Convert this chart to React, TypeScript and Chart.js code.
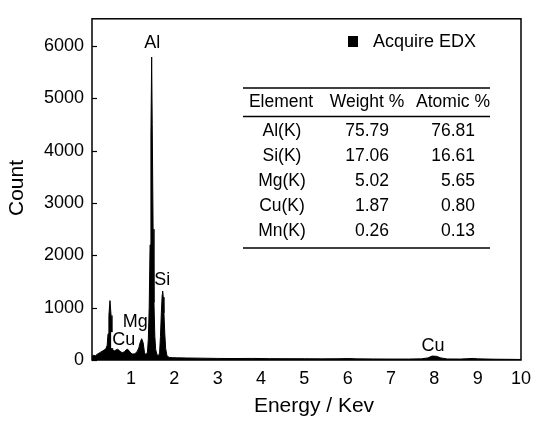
import React, { useEffect, useRef } from 'react';
import { Chart, registerables } from 'chart.js';

Chart.register(...registerables);

const FONT = '"Liberation Sans", Arial, Helvetica, sans-serif';

// Spectrum (energy in keV, counts)
const energy = [
  0.10, 0.14, 0.18, 0.22, 0.26, 0.30, 0.34, 0.38, 0.42, 0.45, 0.47, 0.49, 0.515, 0.54, 0.56, 0.58,
  0.61, 0.65, 0.69, 0.73, 0.77, 0.81, 0.85, 0.89, 0.92, 0.96, 1.00, 1.04, 1.09, 1.14, 1.18, 1.21,
  1.246, 1.28, 1.31, 1.34, 1.38, 1.40, 1.42, 1.44, 1.46, 1.477, 1.49, 1.51, 1.53, 1.55, 1.57, 1.60,
  1.64, 1.66, 1.68, 1.70, 1.72, 1.73, 1.745, 1.76, 1.78, 1.80, 1.83, 1.88, 1.95, 2.05, 2.3, 2.6,
  3.0, 3.4, 3.8, 4.2, 4.6, 5.0, 5.4, 5.8, 6.0, 6.2, 6.6, 7.0, 7.4, 7.7, 7.85, 7.95, 8.05, 8.15,
  8.3, 8.6, 8.9, 9.0, 9.4, 9.8, 10.0,
];
const counts = [
  70, 90, 80, 110, 130, 150, 170, 190, 215, 280, 500, 850, 1135, 850, 420, 190,
  170, 190, 207, 180, 150, 143, 160, 195, 207, 170, 130, 113, 120, 160, 230, 330,
  407, 330, 150, 90, 150, 400, 1000, 2200, 4300, 5790, 4500, 2500, 1100, 450, 200, 100,
  80, 150, 450, 900, 1250, 1318, 1200, 900, 500, 220, 80, 50, 45, 42, 38, 35,
  30, 28, 30, 26, 25, 24, 22, 24, 28, 22, 20, 18, 18, 22, 40, 75, 70, 40,
  20, 18, 30, 22, 15, 12, 10,
];

const seriesLabel = 'Acquire EDX';
const xTickValues = [1, 2, 3, 4, 5, 6, 7, 8, 9, 10];
const yTickValues = [0, 1000, 2000, 3000, 4000, 5000, 6000];
const xTitle = 'Energy / Kev';
const yTitle = 'Count';

// Peak annotations
const peakLabels = ['Al', 'Si', 'Mg', 'Cu', 'Cu'];
const peakLabelEnergy = [1.49, 1.72, 1.1, 0.83, 7.97];
const peakLabelCount = [6060, 1530, 720, 380, 265];
const peakLabelBoxed = [false, false, false, true, false];

// Composition table
const tableHeaders = ['Element', 'Weight %', 'Atomic %'];
const elements = ['Al(K)', 'Si(K)', 'Mg(K)', 'Cu(K)', 'Mn(K)'];
const weightPct = [75.79, 17.06, 5.02, 1.87, 0.26];
const atomicPct = [76.81, 16.61, 5.65, 0.8, 0.13];

const overlayPlugin = {
  id: 'overlay',
  afterDatasetsDraw(chart: any) {
    const { ctx, chartArea: a, scales } = chart;
    const x = scales.x;
    const y = scales.y;
    ctx.save();

    // frame
    ctx.strokeStyle = '#000';
    ctx.lineWidth = 1.5;
    ctx.strokeRect(a.left, a.top, a.right - a.left, a.bottom - a.top);

    // inward y ticks
    ctx.lineWidth = 1.2;
    yTickValues.forEach((v) => {
      const py = Math.round(y.getPixelForValue(v)) + 0.5;
      ctx.beginPath();
      ctx.moveTo(a.left, py);
      ctx.lineTo(a.left + 5, py);
      ctx.stroke();
    });

    // peak labels
    ctx.font = `18px ${FONT}`;
    ctx.textAlign = 'center';
    ctx.textBaseline = 'middle';
    peakLabels.forEach((t, i) => {
      const px = x.getPixelForValue(peakLabelEnergy[i]);
      const py = y.getPixelForValue(peakLabelCount[i]);
      if (peakLabelBoxed[i]) {
        const w = ctx.measureText(t).width;
        ctx.fillStyle = '#fff';
        ctx.fillRect(px - w / 2 - 1, py - 8, w + 2, 16);
      }
      ctx.fillStyle = '#000';
      ctx.fillText(t, px, py);
    });

    // legend
    const label = chart.data.datasets[0].label;
    ctx.fillStyle = '#000';
    ctx.fillRect(348, 36, 10, 11);
    ctx.font = `18px ${FONT}`;
    ctx.textAlign = 'left';
    ctx.fillText(label, 373, 42);

    // table
    ctx.lineWidth = 1.6;
    const hline = (yy: number) => {
      ctx.beginPath();
      ctx.moveTo(243, yy);
      ctx.lineTo(490, yy);
      ctx.stroke();
    };
    hline(88);
    hline(116.5);
    hline(248);
    ctx.font = `17.5px ${FONT}`;
    ctx.textAlign = 'center';
    const headerX = [281, 367, 453];
    tableHeaders.forEach((h, i) => ctx.fillText(h, headerX[i], 102.5));
    const rowY0 = 131;
    const rowStep = 25;
    elements.forEach((el, i) => {
      const ry = rowY0 + i * rowStep;
      ctx.textAlign = 'center';
      ctx.fillText(el, 282, ry);
      ctx.textAlign = 'right';
      ctx.fillText(weightPct[i].toFixed(2), 389, ry);
      ctx.fillText(atomicPct[i].toFixed(2), 475, ry);
    });

    // axis titles
    ctx.font = `21px ${FONT}`;
    ctx.textAlign = 'center';
    ctx.fillText(xTitle, 314, 406);
    ctx.save();
    ctx.translate(17, 188);
    ctx.rotate(-Math.PI / 2);
    ctx.fillText(yTitle, 0, 0);
    ctx.restore();

    ctx.restore();
  },
};

export default function App() {
  const ref = useRef<HTMLCanvasElement | null>(null);
  useEffect(() => {
    document.body.style.margin = '0';
    const canvas = ref.current;
    if (!canvas) return;
    const chart = new Chart(canvas, {
      type: 'line',
      data: {
        datasets: [
          {
            label: seriesLabel,
            data: energy.map((e, i) => ({ x: e, y: counts[i] })),
            borderColor: '#000',
            backgroundColor: '#000',
            borderWidth: 1,
            pointRadius: 0,
            fill: 'origin',
            tension: 0,
          },
        ],
      },
      options: {
        animation: false,
        responsive: false,
        devicePixelRatio: 1,
        layout: { padding: { top: 13, right: 24, left: 0, bottom: 0 } },
        plugins: {
          legend: { display: false },
          tooltip: { enabled: false },
        },
        scales: {
          x: {
            type: 'linear',
            min: 0.1,
            max: 10,
            afterBuildTicks: (s: any) => {
              s.ticks = xTickValues.map((v) => ({ value: v }));
            },
            afterFit: (s: any) => {
              s.height = 66;
            },
            grid: { display: false, drawTicks: false },
            border: { display: false },
            ticks: {
              color: '#000',
              font: { size: 18, family: FONT },
              padding: 8,
              maxRotation: 0,
              autoSkip: false,
              callback: (v: any) => String(v),
            },
          },
          y: {
            type: 'linear',
            min: 0,
            max: 6520,
            afterBuildTicks: (s: any) => {
              s.ticks = yTickValues.map((v) => ({ value: v }));
            },
            afterFit: (s: any) => {
              s.width = 92;
            },
            grid: { display: false, drawTicks: false },
            border: { display: false },
            ticks: {
              color: '#000',
              font: { size: 18, family: FONT },
              padding: 8,
              autoSkip: false,
              callback: (v: any) => String(v),
            },
          },
        },
      },
      plugins: [overlayPlugin],
    });
    return () => chart.destroy();
  }, []);
  return <canvas ref={ref} width={545} height={426} style={{ display: 'block' }} />;
}
